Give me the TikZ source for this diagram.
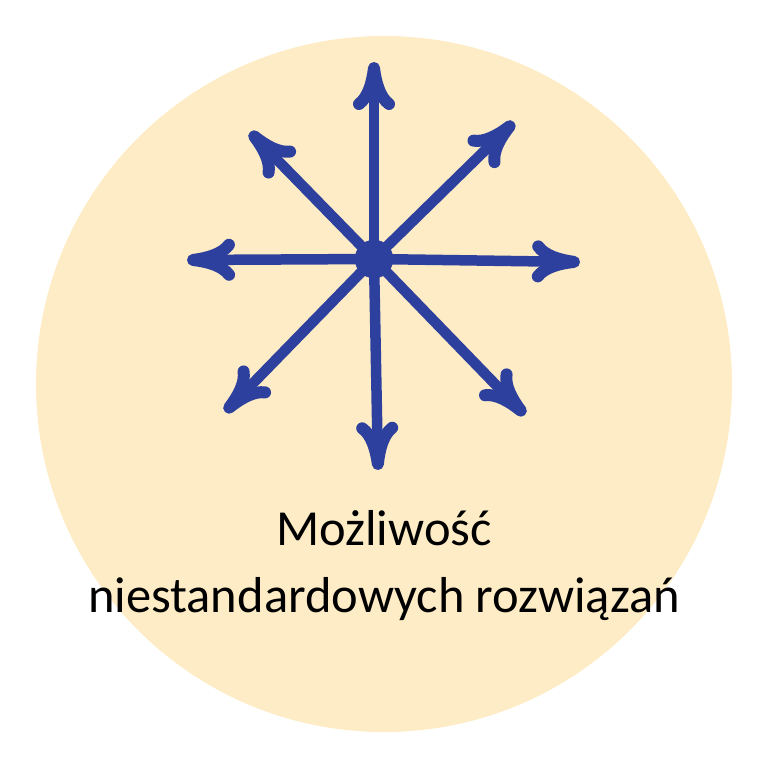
\documentclass[tikz,border=0pt]{standalone}
\usepackage{fontspec}
\setmainfont{Carlito}
\usepackage{tikz}
\usetikzlibrary{arrows.meta}
\definecolor{paleyellow}{RGB}{254,236,198}
\definecolor{rayblue}{RGB}{46,64,158}

\tikzset{
  ray/.style={rayblue, line width=10.5pt, line cap=round,
    -{Computer Modern Rightarrow[length=48pt, width=42pt, line width=12pt, round]}},
  caption/.style={anchor=base, font=\fontsize{50.5}{60}\selectfont}
}

\begin{document}
\begin{tikzpicture}[x=1pt,y=-1pt]
       \useasboundingbox (0,0) rectangle (768,768);
       \fill[paleyellow] (384,384) circle (348);

       \filldraw[rayblue] (374,259) circle (19) node (hub) {};
       \coordinate (n)  at (374,62);
       \coordinate (ne) at (514,122);
       \coordinate (e)  at (580,262);
       \coordinate (se) at (525,415);
       \coordinate (s)  at (378,470);
       \coordinate (sw) at (225,412);
       \coordinate (w)  at (187,260);
       \coordinate (nw) at (250,132);

       \foreach \tip in {n,ne,e,se,s,sw,w,nw}
         \draw[ray] (hub.center) -- (\tip);

       \node[caption] (line1) at (384,545) {Możliwość};
       \node[caption] (line2) at (384,612) {niestandardowych rozwiązań};
\end{tikzpicture}
\end{document}
